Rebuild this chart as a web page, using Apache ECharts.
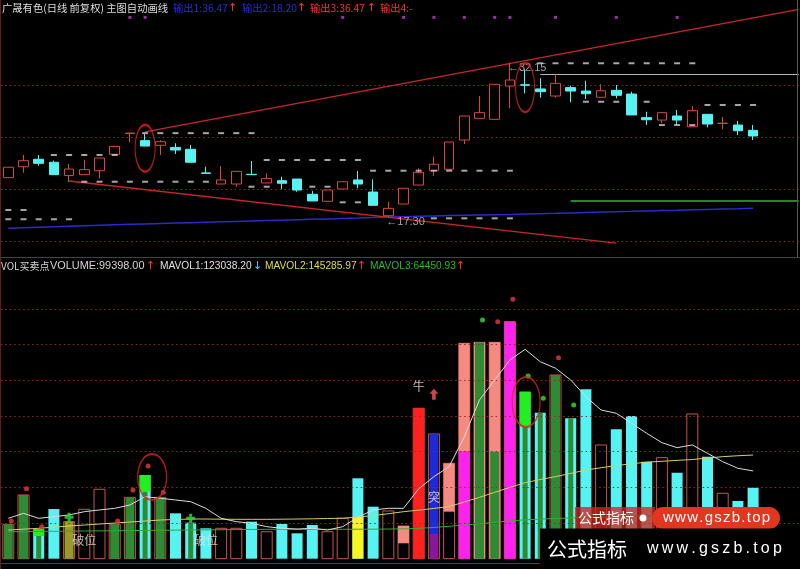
<!DOCTYPE html>
<html><head><meta charset="utf-8">
<script src="https://cdn.jsdelivr.net/npm/echarts/dist/echarts.min.js"></script>
<style>html,body{margin:0;padding:0;background:#000}#c{width:800px;height:569px}</style>
</head><body><div id="c"></div>
<script>
// ---------- data ----------
const categories = ['1','2','3','4','5','6','7','8','9','10','11','12','13','14','15','16','17','18','19','20',
  '21','22','23','24','25','26','27','28','29','30','31','32','33','34','35','36','37','38','39','40',
  '41','42','43','44','45','46','47','48','49','50','51','52','53'];
// [open, close, low, high]
const ohlc = [
  [21.09,22.09,21.05,22.12],[22.14,22.72,21.57,23.27],[22.86,22.47,22.24,23.27],[22.57,21.38,21.38,22.73],
  [21.30,21.92,20.67,22.40],[21.38,21.86,21.38,22.79],[21.76,22.98,21.03,22.98],[23.34,24.10,23.30,24.15],
  [25.33,25.38,24.49,25.40],[24.65,24.13,24.10,25.29],[24.20,24.55,23.27,24.70],[24.00,23.75,23.37,24.40],
  [23.82,22.57,22.57,24.23],[21.55,21.50,21.50,22.15],[20.48,20.87,20.48,22.21],[20.48,21.70,20.22,21.70],
  [21.41,21.38,21.38,22.69],[20.58,21.00,20.58,21.51],[20.80,20.55,19.97,21.18],[20.96,19.90,19.74,20.96],
  [19.49,18.85,18.85,19.81],[18.82,19.90,18.82,19.90],[20.00,20.70,20.00,20.75],[20.87,20.48,20.07,21.73],
  [19.71,18.43,18.43,20.93],[17.43,18.14,17.30,18.78],[18.56,20.07,18.56,20.07],[20.38,21.60,20.38,21.99],
  [21.76,22.38,21.25,23.11],[21.90,24.52,21.90,24.52],[24.71,27.02,24.33,27.02],[26.80,27.34,26.80,28.94],
  [26.70,30.07,26.70,30.07],[29.90,30.48,27.76,32.15],[30.02,29.98,29.20,31.50],[29.62,29.36,28.78,30.64],
  [28.94,30.16,28.78,31.03],[29.75,29.42,28.34,29.94],[29.42,29.16,28.65,30.41],[28.82,29.45,28.82,30.07],
  [29.49,29.01,28.72,30.00],[29.13,27.12,27.12,29.36],[26.86,26.66,26.15,27.43],[26.63,27.34,26.32,27.34],
  [27.02,26.63,26.15,27.60],[25.99,27.53,25.99,27.98],[27.18,26.25,25.93,27.18],[26.30,26.33,25.74,26.95],
  [26.15,25.60,25.19,26.54],[25.64,25.10,24.71,26.15]
];
const blueLine = [16.22,16.27,16.32,16.37,16.42,16.47,16.52,16.56,16.60,16.64,16.68,16.72,16.76,16.80,16.84,
  16.88,16.92,16.96,17.00,17.04,17.08,17.12,17.16,17.20,17.25,17.30,17.34,17.38,17.41,17.44,17.47,17.50,17.53,
  17.56,17.60,17.63,17.66,17.70,17.74,17.78,17.82,17.85,17.89,17.93,17.96,18.00,18.04,18.07,18.10,18.14];
const priceGrid = [15, 20, 25, 30];
const upperTrend = [[9, 25.5], [52, 37.27]];
const lowerTrend = [[4, 20.77], [40, 14.8]];
const greyLevel = [[35, 31.05], [52, 31.05]];
const greenLevel = [[37, 18.88], [52, 18.88]];
const dashMarks = [
  [0,17.98],[1,17.98],
  [0,17.09],[1,17.09],[2,17.09],[3,17.09],[4,17.09],
  [3,23.27],[4,23.27],[5,23.27],[6,23.27],[7,23.27],
  [5,20.70],[6,20.70],[7,20.70],[8,20.70],[9,20.70],[10,20.70],[11,20.70],[12,20.70],[13,20.70],
  [9,25.37],[10,25.37],[11,25.37],[12,25.37],[13,25.37],[14,25.37],[15,25.37],[16,25.37],
  [16,20.22],[17,20.22],[20,20.22],[21,20.22],
  [17,22.79],[18,22.79],[19,22.79],[20,22.79],[21,22.79],[22,22.79],[23,22.79],
  [22,18.72],[23,18.72],
  [24,21.76],[25,21.76],[26,21.76],[27,21.76],[28,21.76],[29,21.76],[30,21.76],[31,21.76],[32,21.76],[33,21.76],
  [28,17.18],[29,17.18],[30,17.18],[31,17.18],[32,17.18],[33,17.18],
  [35,32.09],[36,32.09],[37,32.09],[38,32.09],[39,32.09],[40,32.09],[41,32.09],[42,32.09],[43,32.09],[44,32.09],[45,32.09],
  [38,28.39],[39,28.39],[40,28.39],[42,28.39],
  [43,26.15],[44,26.15],[45,26.15],
  [46,28.08],[47,28.08],[48,28.08],[49,28.08]
];
const topMarkIdx = [8, 9, 22, 26, 28, 30, 32, 33, 36, 40, 44];
const topMarkLevel = 36.5;
const priceLabels = [[25, 17.30], [33, 32.15]];
const upperCircles = [[9, 23.91], [34, 29.76]];

const volume = [48200,89300,41200,69600,51900,69200,97300,48200,86000,117300,86000,63600,50500,42600,42600,
  42600,51900,37800,48600,35600,47200,37800,56600,112700,72900,66900,45800,210800,174800,133700,301900,
  303300,303300,332200,234000,204700,257500,196800,237400,159400,181400,200000,136000,141600,120500,
  202800,143000,91700,80900,99398];
const mavol1 = [56600,63600,56600,58900,61300,65900,68300,70600,75300,86900,84700,82300,79900,70600,56600,
  51900,49600,44900,42600,41600,42600,40200,44900,58000,68300,70600,70600,98000,115000,129000,171000,
  222500,250500,278500,293500,276000,267000,250500,227000,208400,203800,189800,175800,162600,155600,
  159400,147700,136000,126700,123038];
const mavol2 = [40200,41400,42600,44200,45800,47200,48600,50000,51400,52800,54200,55000,55600,55600,55400,
  55200,55200,55200,55400,55600,55900,56300,56800,58300,60500,63000,65900,68000,70500,73000,79500,86000,
  93000,100000,106500,111000,115000,119500,124300,127500,130500,133000,135300,136500,137800,139000,
  141000,143000,144300,145286];
const mavol3 = [37800,38000,38200,38400,38600,38800,39000,39200,39400,39600,39800,40000,40200,40400,40600,
  40800,41000,41200,41200,41200,41200,41200,41200,41300,41400,41600,41800,42500,43800,45500,47200,49000,
  51000,53000,54500,55500,56300,57000,57600,58200,58800,59400,60000,60600,61200,61800,62500,63200,63800,64451];
const volGrid = [50000, 100000, 150000, 200000, 250000, 300000, 350000];
// overlay segments [index, from, to]
const darkGreenSeg = [[0,0,48200],[1,0,89300],[7,0,48200],[8,0,86000],[10,0,86000],[31,0,303300],[32,0,150000],[36,0,257500]];
const greenStripSeg = [[2,0,31800],[9,0,94000],[12,0,50500],[34,0,185000],[35,0,204700],[37,0,196800]];
const brightGreenSeg = [[2,31800,41200],[9,94000,117300],[34,185000,234000]];
const pinkSeg = [[26,21600,45800],[29,65900,133700],[30,150000,301900],[31,0,303300],[32,0,303300]];
const magentaSeg = [[30,0,150000],[33,0,332200]];
const redSeg = [[27,0,210800]];
const blueSeg = [[28,34600,174800]];
const purpleSeg = [[28,0,34600]];
const yellowSeg = [[23,0,58900]];
const oliveSeg = [[4,0,51900]];
const redDots = [[0,52800],[1,98100],[2,44900],[7,52800],[8,96300],[9,129900],[10,93100],[32,332200],[33,363600],[36,281700]];
const greenDots = [[31,334600],[34,256100],[35,224800],[37,215400]];
const greenPlus = [[4,58000],[12,56600]];
const redArrow = [[28,210800]];
const volTexts = [[5,26200,'破位'],[13,26200,'破位'],[27,242000,'牛'],[28,86500,'突']];
const volCircles = [[9,114500],[34,219700]];

// ---------- chart ----------
const RED = '#d8463e', CYAN = '#57f3f3';
const GRID_LINE = { type: [1.5, 3], color: '#9a2626', width: 1 };
const chart = echarts.init(document.getElementById('c'), null, { renderer: 'canvas', width: 800, height: 569 });

function segSeries(data, width, fill, z, stroke) {
  return {
    type: 'custom', xAxisIndex: 1, yAxisIndex: 1, z: z, silent: true, data: data,
    encode: { x: 0, y: [1, 2] },
    renderItem: function (params, api) {
      const k = api.value(0);
      const p0 = api.coord([k, api.value(1)]);
      const p1 = api.coord([k, api.value(2)]);
      return { type: 'rect', shape: { x: p0[0] - width / 2, y: p1[1], width: width, height: p0[1] - p1[1] },
        style: { fill: fill, stroke: stroke || null, lineWidth: 1 } };
    }
  };
}
const baseVol = volume.map((v, k) => [k, 0, v, ohlc[k][1] >= ohlc[k][0] ? 1 : 0]);

function txt(x, y, text, fill, font) {
  return { type: 'text', x: x, y: y, z: 50, silent: true,
    style: { text: text, fill: fill, font: font, verticalAlign: 'middle' } };
}
const hf = '10.3px "Noto Sans CJK SC", sans-serif';
const af = '11px "DejaVu Sans", sans-serif';
const vf = '10.2px "Liberation Sans", "Noto Sans CJK SC", sans-serif';
const vf2 = '10.9px "Liberation Sans", "Noto Sans CJK SC", sans-serif';
const vcf = '10px "Noto Sans CJK SC", sans-serif';

const option = {
  backgroundColor: '#000',
  animation: false,
  grid: [
    { left: 0.7, top: 1.8, width: 805.6, height: 254.8, outerBoundsMode: 'none' },
    { left: 0.7, top: 273.3, width: 805.6, height: 285.4, outerBoundsMode: 'none' }
  ],
  xAxis: [
    { type: 'category', gridIndex: 0, data: categories, boundaryGap: true, show: false },
    { type: 'category', gridIndex: 1, data: categories, boundaryGap: true, show: false }
  ],
  yAxis: [
    { type: 'value', gridIndex: 0, min: 13.5, max: 38, show: false, splitLine: { show: false } },
    { type: 'value', gridIndex: 1, min: 0, max: 400000, show: false, splitLine: { show: false } }
  ],
  series: [
    {
      type: 'candlestick', xAxisIndex: 0, yAxisIndex: 0, data: ohlc, barWidth: 10, z: 5,
      itemStyle: { color: '#000', color0: CYAN, borderColor: RED, borderColor0: CYAN, borderWidth: 1 },
      markLine: {
        silent: true, symbol: ['none', 'none'], label: { show: false }, animation: false,
        data: priceGrid.map(v => ({ yAxis: v, lineStyle: GRID_LINE })).concat([
          [{ coord: upperTrend[0], lineStyle: { color: '#c82626', width: 1.3, type: 'solid' } }, { coord: upperTrend[1] }],
          [{ coord: lowerTrend[0], lineStyle: { color: '#c82626', width: 1.3, type: 'solid' } }, { coord: lowerTrend[1] }],
          [{ coord: greyLevel[0], lineStyle: { color: '#b8b8b8', width: 1.2, type: 'solid' } }, { coord: greyLevel[1] }],
          [{ coord: greenLevel[0], lineStyle: { color: '#2fb52f', width: 1.5, type: 'solid' } }, { coord: greenLevel[1] }]
        ])
      }
    },
    { type: 'line', xAxisIndex: 0, yAxisIndex: 0, data: blueLine, symbol: 'none', z: 3,
      lineStyle: { color: '#2a2ad0', width: 1.5 } },
    { type: 'scatter', xAxisIndex: 0, yAxisIndex: 0, data: dashMarks, symbol: 'rect', symbolSize: [6, 2], z: 6,
      itemStyle: { color: '#cfcfcf' } },
    { type: 'scatter', xAxisIndex: 0, yAxisIndex: 0, data: topMarkIdx.map(k => [k, topMarkLevel]), symbol: 'rect',
      symbolSize: 3, z: 6, itemStyle: { color: '#c23ad0' } },
    { type: 'scatter', xAxisIndex: 0, yAxisIndex: 0, data: priceLabels, symbolSize: 0, z: 7,
      label: { show: true, position: 'right', distance: 0, offset: [-2, 5], color: '#c8c8c8',
        fontSize: 11, fontFamily: 'Liberation Sans', formatter: p => '\u2190' + p.value[1].toFixed(2) } },
    { type: 'scatter', xAxisIndex: 0, yAxisIndex: 0, data: upperCircles, symbol: 'circle', z: 8,
      symbolSize: (v, p) => [[20, 47], [19, 49]][p.dataIndex],
      itemStyle: { color: 'rgba(0,0,0,0)', borderColor: '#e02222', borderWidth: 1.6 } },

    // ---- volume panel ----
    {
      type: 'custom', xAxisIndex: 1, yAxisIndex: 1, z: 2, silent: true, data: baseVol,
      encode: { x: 0, y: [1, 2] },
      renderItem: function (params, api) {
        const k = api.value(0), up = api.value(3);
        const p0 = api.coord([k, 0]), p1 = api.coord([k, api.value(2)]);
        const w = 11;
        return { type: 'rect', shape: { x: p0[0] - w / 2, y: p1[1], width: w, height: p0[1] - p1[1] },
          style: up ? { fill: '#000', stroke: '#c8564a', lineWidth: 1 } : { fill: CYAN } };
      },
      markLine: { silent: true, symbol: ['none', 'none'], label: { show: false }, animation: false,
        data: volGrid.map(v => ({ yAxis: v, lineStyle: GRID_LINE })) }
    },
    segSeries(pinkSeg, 11, '#f58a80', 3),
    segSeries(magentaSeg, 11, '#ff22ee', 3),
    segSeries(redSeg, 11, '#ff2020', 3),
    segSeries(blueSeg, 9, '#1c2ad8', 3),
    segSeries(purpleSeg, 9, '#86189a', 3),
    segSeries(yellowSeg, 11, '#f5f520', 3),
    segSeries(oliveSeg, 9, '#9a9a2a', 4),
    segSeries(darkGreenSeg, 9, '#2e8b34', 4),
    segSeries(greenStripSeg, 5, '#2e8b34', 4),
    segSeries(brightGreenSeg, 11, '#22ee22', 5),
    { type: 'line', xAxisIndex: 1, yAxisIndex: 1, data: mavol3, symbol: 'none', z: 6, lineStyle: { color: '#2fae2f', width: 1 } },
    { type: 'line', xAxisIndex: 1, yAxisIndex: 1, data: mavol2, symbol: 'none', z: 6, lineStyle: { color: '#d8cc6a', width: 1 } },
    { type: 'line', xAxisIndex: 1, yAxisIndex: 1, data: mavol1, symbol: 'none', z: 6, lineStyle: { color: '#dcdcdc', width: 1 } },
    { type: 'scatter', xAxisIndex: 1, yAxisIndex: 1, data: redDots, symbolSize: 5, symbolOffset: [3, 0], z: 7,
      itemStyle: { color: '#e83a3a' } },
    { type: 'scatter', xAxisIndex: 1, yAxisIndex: 1, data: greenDots, symbolSize: 5, symbolOffset: [3, 0], z: 7,
      itemStyle: { color: '#3adf3a' } },
    { type: 'scatter', xAxisIndex: 1, yAxisIndex: 1, data: greenPlus, z: 7, symbolSize: 9,
      symbol: 'path://M3,0 L6,0 L6,3 L9,3 L9,6 L6,6 L6,9 L3,9 L3,6 L0,6 L0,3 L3,3 Z', itemStyle: { color: '#34e034' } },
    { type: 'scatter', xAxisIndex: 1, yAxisIndex: 1, data: redArrow, z: 7, symbolSize: [9, 11], symbolOffset: [0, -14],
      symbol: 'path://M5,0 L10,5 L7,5 L7,11 L3,11 L3,5 L0,5 Z', itemStyle: { color: '#ff5a5a' } },
    { type: 'scatter', xAxisIndex: 1, yAxisIndex: 1, data: volTexts, symbolSize: 0, z: 9,
      label: { show: true, position: 'inside', formatter: p => p.value[2], fontFamily: 'Noto Sans CJK SC',
        fontSize: 12, color: '#ece4dc' } },
    { type: 'scatter', xAxisIndex: 1, yAxisIndex: 1, data: volCircles, symbol: 'circle', z: 8,
      symbolSize: (v, p) => [[29, 46], [28, 50]][p.dataIndex],
      symbolOffset: (v, p) => [[7, 0], [1, 0]][p.dataIndex],
      itemStyle: { color: 'rgba(0,0,0,0)', borderColor: '#e02222', borderWidth: 1.6 } }
  ],
  graphic: [
    { type: 'line', z: 40, shape: { x1: 0, y1: 257.5, x2: 800, y2: 257.5 }, style: { stroke: '#9a1e1e', lineWidth: 1 } },
    { type: 'line', z: 40, shape: { x1: 0, y1: 563.5, x2: 800, y2: 563.5 }, style: { stroke: '#9a1e1e', lineWidth: 1 } },
    { type: 'line', z: 40, shape: { x1: 0.5, y1: 0, x2: 0.5, y2: 569 }, style: { stroke: '#6a1a1a', lineWidth: 1 } },
    { type: 'line', z: 40, shape: { x1: 797.5, y1: 0, x2: 797.5, y2: 257 }, style: { stroke: '#5a5a5a', lineWidth: 1 } },
    txt(2, 8, '广晟有色(日线 前复权) 主图自动画线', '#dcdcdc', hf),
    txt(173, 8, '输出1:36.47', '#2a2ae0', hf), txt(228, 8, '↑', '#ff3a3a', af),
    txt(242, 8, '输出2:18.20', '#2a2ae0', hf), txt(297, 8, '↑', '#ff3a3a', af),
    txt(310, 8, '输出3:36.47', '#ff3030', hf), txt(367, 8, '↑', '#ff3a3a', af),
    txt(380, 8, '输出4:-', '#ff3030', hf),
    txt(1, 266, 'VOL买卖点', '#d4d4d4', vcf),
    txt(50, 266, 'VOLUME:99398.00', '#d4d4d4', vf2), txt(146, 266, '↑', '#ff3a3a', af),
    txt(160, 266, 'MAVOL1:123038.20', '#e0e0e0', vf), txt(253, 266, '↓', '#40d8ff', af),
    txt(265, 266, 'MAVOL2:145285.97', '#dede3a', vf), txt(357, 266, '↑', '#ff3a3a', af),
    txt(370, 266, 'MAVOL3:64450.93', '#2cb82c', vf), txt(456, 266, '↑', '#ff3a3a', af),
    // watermark
    { type: 'rect', z: 60, shape: { x: 575, y: 507, width: 80, height: 22 }, style: { fill: 'rgba(205,40,30,0.78)' } },
    { type: 'rect', z: 61, shape: { x: 652, y: 507, width: 128, height: 22, r: 11 }, style: { fill: '#e2361f' } },
    { type: 'circle', z: 62, shape: { cx: 643, cy: 518, r: 3.5 }, style: { fill: '#ffffff' } },
    Object.assign(txt(578, 518, '公式指标', '#ffffff', '14px "Noto Sans CJK SC", sans-serif'), { z: 63 }),
    Object.assign(txt(663, 518, 'www.gszb.top'.split('').join('\u200A'), '#ffffff', '15px "Liberation Sans", sans-serif'), { z: 63 }),
    { type: 'rect', z: 64, shape: { x: 540, y: 528.5, width: 260, height: 41 }, style: { fill: '#000' } },
    Object.assign(txt(547, 549, '公式指标', '#ffffff', '20px "Noto Sans CJK SC", serif'), { z: 65 }),
    Object.assign(txt(647, 549, 'www.gszb.top'.split('').join('\u2009'), '#ffffff', '16px "Liberation Sans", sans-serif'), { z: 65 })
  ]
};
chart.setOption(option);
</script>
</body></html>
